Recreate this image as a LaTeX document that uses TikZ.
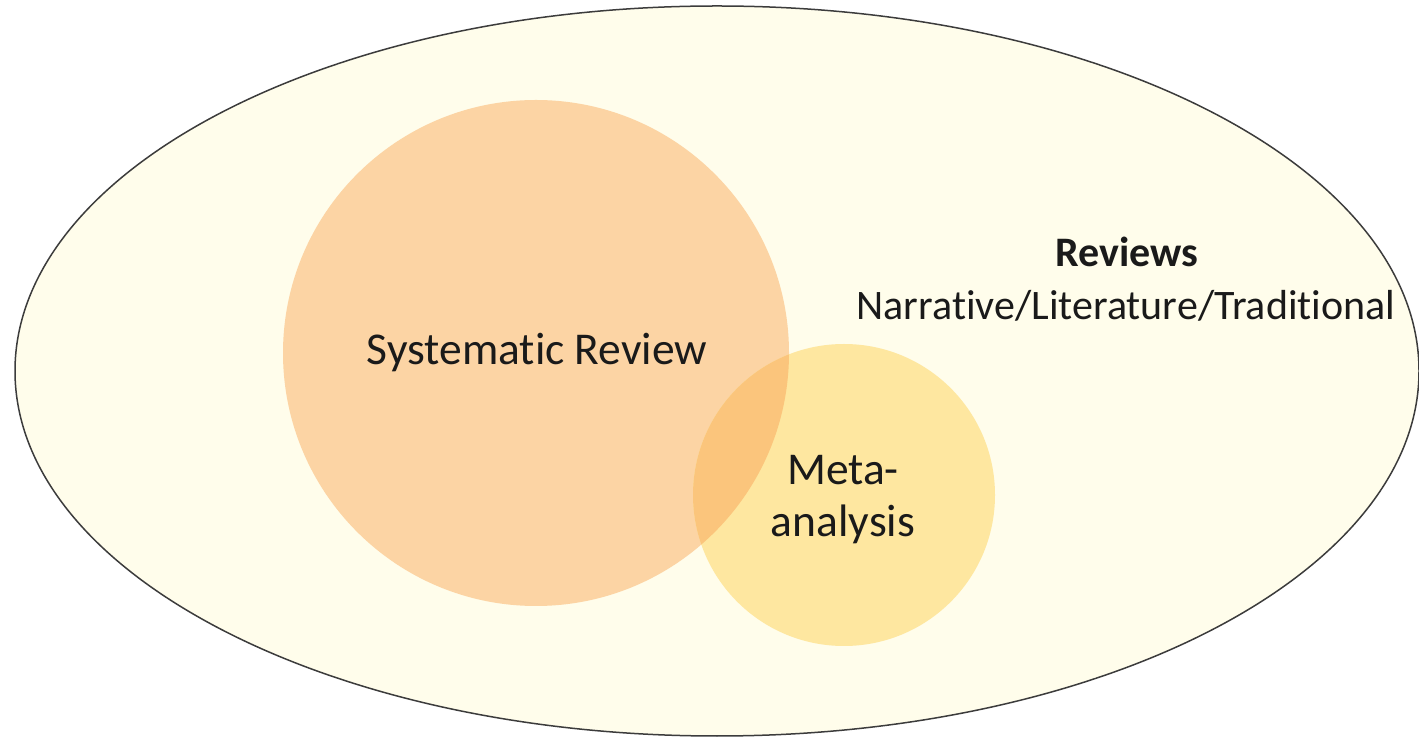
\documentclass[tikz,border=0pt]{standalone}
\usepackage{fontspec}
\setmainfont[Ligatures={NoCommon,NoRare}]{Carlito}
\definecolor{ellfill}{HTML}{FFFDEB}
\definecolor{ellline}{HTML}{3C3C3C}
\definecolor{sysfill}{HTML}{FCD4A4}
\definecolor{metafill}{HTML}{FEE7A0}
\definecolor{overfill}{HTML}{FBC57C}
\definecolor{txt}{HTML}{1A1A1A}
\begin{document}
\begin{tikzpicture}[x=1pt,y=1pt,
  lbl/.style={text=txt,inner sep=0pt,align=center}]
\useasboundingbox (0,0) rectangle (1419,739);
\fill[white] (0,0) rectangle (1419,739);
% outer ellipse
\draw[ellline,fill=ellfill,line width=1.5pt] (717,368) ellipse [x radius=702, y radius=365];
\coordinate (ell) at (717,368);
% circles
\fill[sysfill] (536,386) circle [radius=253];
\fill[metafill] (844,244) circle [radius=151];
\begin{scope}
\clip (536,386) circle [radius=253];
\fill[overfill] (844,244) circle [radius=151];
\end{scope}
% labels
\node[lbl,font=\fontsize{45.5}{52}\selectfont] (sys) at (537,386) {Systematic Review};
\node[lbl,font=\fontsize{45.5}{52}\selectfont] (meta) at (843,239) {Meta-\\analysis};
\node[lbl,font=\fontsize{42}{48}\selectfont\bfseries] (rev) at (1127,487) {Reviews};
\node[lbl,font=\fontsize{42}{48}\selectfont] (nar) at (1126,433) {Narrative/Literature/Traditional};
\end{tikzpicture}
\end{document}
